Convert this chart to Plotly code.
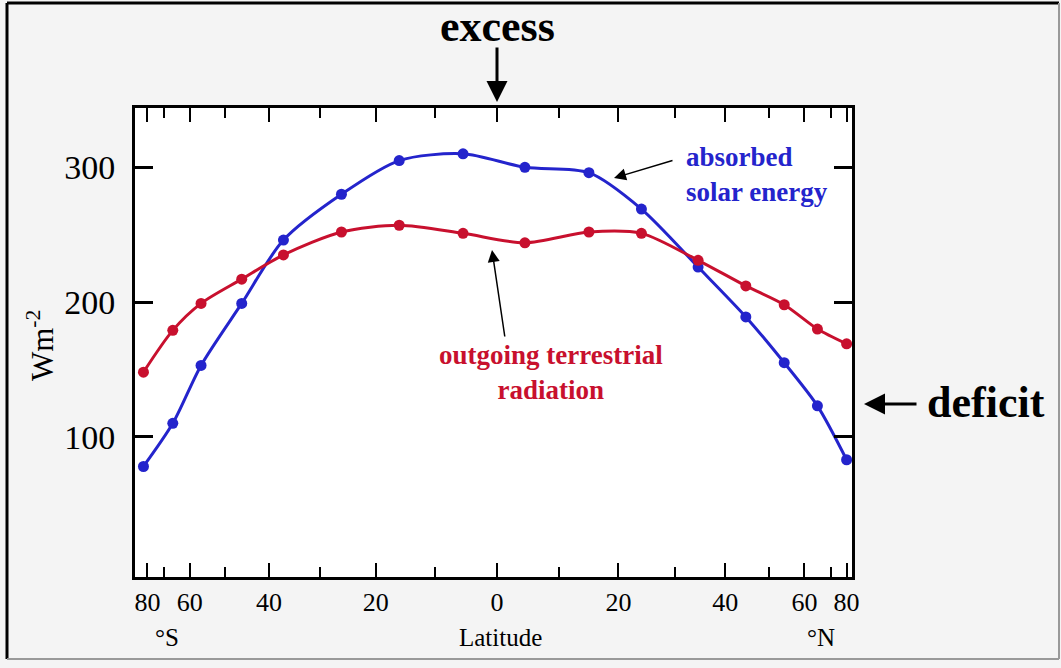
import numpy as np
import plotly.graph_objects as go

# ---- data ----
latitude = [-85, -66, -56.5, -46, -37, -26, -16, -5.5, 4.5, 15, 24, 34.5, 44.5, 54, 64.5, 80]
absorbed_solar = [78, 110, 153, 199, 246, 280, 305, 310, 300, 296, 269, 226, 189, 155, 123, 83]
outgoing_ir = [148, 179, 199, 217, 235, 252, 257, 251, 244, 252, 251, 231, 212, 198, 180, 169]

major_lat = [-80, -60, -40, -20, 0, 20, 40, 60, 80]
major_text = ["80", "60", "40", "20", "0", "20", "40", "60", "80"]
minor_lat = [-70, -50, -30, -10, 10, 30, 50, 70]
y_ticks = [100, 200, 300]

BLUE = "#2424cc"
RED = "#c8102e"
SERIF = "Liberation Serif, Times New Roman, serif"

W, H = 1061, 668
L, R, T, B = 135, 852, 108, 577


def sx(lat):
    return np.sin(np.radians(np.asarray(lat, dtype=float)))


def px(x):
    return (x - L) / (R - L)


def py(y):
    return (B - y) / (B - T)


fig = go.Figure()
fig.add_trace(go.Scatter(
    x=sx(latitude), y=absorbed_solar, mode="lines+markers",
    line=dict(color=BLUE, width=3, shape="spline", smoothing=0.8),
    marker=dict(color=BLUE, size=11), showlegend=False))
fig.add_trace(go.Scatter(
    x=sx(latitude), y=outgoing_ir, mode="lines+markers",
    line=dict(color=RED, width=3, shape="spline", smoothing=0.8),
    marker=dict(color=RED, size=11), showlegend=False))

fig.update_layout(
    width=W, height=H,
    margin=dict(l=L, r=W - R, t=T, b=H - B),
    paper_bgcolor="#f4f4f4", plot_bgcolor="white",
    font=dict(family=SERIF, color="black"),
    xaxis=dict(range=[-1.02, 1.0], tickvals=list(sx(major_lat)), ticktext=major_text,
               ticks="inside", ticklen=14, tickwidth=2, tickcolor="black",
               minor=dict(tickvals=list(sx(minor_lat)), ticks="inside", ticklen=10,
                          tickwidth=2, tickcolor="black"),
               showline=True, linewidth=3, linecolor="black", mirror="allticks",
               showgrid=False, zeroline=False, tickfont=dict(size=26, family=SERIF)),
    yaxis=dict(range=[-4, 344], tickvals=y_ticks, ticks="inside", ticklen=18,
               tickwidth=3, tickcolor="black", showline=True, linewidth=3,
               linecolor="black", mirror="allticks", showgrid=False, zeroline=False,
               tickfont=dict(size=34, family=SERIF), ticklabelstandoff=10),
)


def text(t, x, y, size, color="black", xa="center", ya="middle", **kw):
    return dict(text=t, x=px(x), y=py(y), xref="paper", yref="paper",
                xanchor=xa, yanchor=ya, showarrow=False,
                font=dict(size=size, color=color), **kw)


def arrow(tipx, tipy, ax, ay, width, size):
    return dict(text="", x=px(tipx), y=py(tipy), xref="paper", yref="paper",
                showarrow=True, ax=ax, ay=ay, arrowhead=2, arrowsize=size,
                arrowwidth=width, arrowcolor="black")


ann = [
    text("Latitude", 500, 637, 25),
    text("°S", 167, 637, 25),
    text("°N", 821, 637, 25),
    text("Wm<sup>-2</sup>", 40, 345, 31, textangle=-90),
    text("<b>excess</b>", 497, 27, 44),
    arrow(497, 102, 0, -56, 3, 1.4),
    text("<b>deficit</b>", 925, 402, 44, xa="left"),
    arrow(864, 404, 54, 0, 3, 1.4),
    text("<b>absorbed<br>solar energy</b>", 684, 174, 27, color=BLUE, xa="left", align="left"),
    arrow(614, 178, 60, -18, 1.5, 1.6),
    text("<b>outgoing terrestrial<br>radiation</b>", 551, 373, 27, color=RED, align="center"),
    arrow(492, 250, 13, 88, 1.5, 1.6),
]
fig.update_layout(annotations=ann)

# outer frame of the picture
fig.add_shape(type="line", xref="paper", yref="paper", x0=px(7), x1=px(7), y0=py(3), y1=py(659),
              line=dict(color="black", width=3))
fig.add_shape(type="line", xref="paper", yref="paper", x0=px(7), x1=px(1059), y0=py(3), y1=py(3),
              line=dict(color="black", width=3))
fig.add_shape(type="line", xref="paper", yref="paper", x0=px(1059), x1=px(1059), y0=py(3), y1=py(659),
              line=dict(color="#999999", width=2))
fig.add_shape(type="line", xref="paper", yref="paper", x0=px(7), x1=px(1059), y0=py(659), y1=py(659),
              line=dict(color="#999999", width=2))

fig.write_html("out.html")
